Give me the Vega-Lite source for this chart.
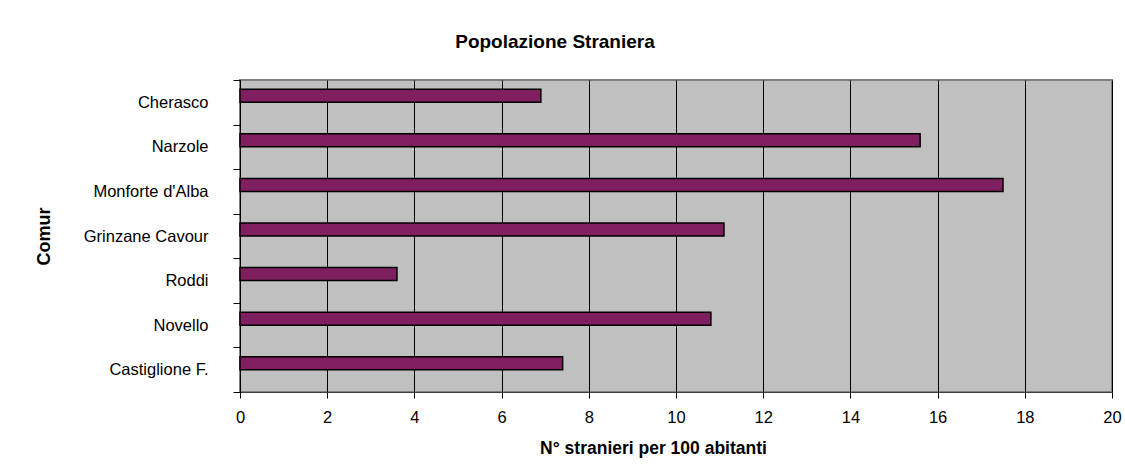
{
  "$schema": "https://vega.github.io/schema/vega-lite/v6.json",
  "autosize": "none",
  "width": 872,
  "height": 312,
  "padding": {"left": 240, "top": 80, "right": 13, "bottom": 76},
  "background": "white",
  "title": {
    "text": "Popolazione Straniera",
    "font": "Liberation Sans",
    "fontSize": 19,
    "fontWeight": "bold",
    "color": "#000000",
    "anchor": "middle",
    "frame": "group",
    "dx": -121,
    "offset": 20
  },
  "data": {
    "values": [
      {"comune": "Cherasco", "valore": 6.9},
      {"comune": "Narzole", "valore": 15.6},
      {"comune": "Monforte d'Alba", "valore": 17.5},
      {"comune": "Grinzane Cavour", "valore": 11.1},
      {"comune": "Roddi", "valore": 3.6},
      {"comune": "Novello", "valore": 10.8},
      {"comune": "Castiglione F.", "valore": 7.4}
    ]
  },
  "mark": {
    "type": "bar",
    "fill": "#7F1F5F",
    "stroke": "#000000",
    "strokeWidth": 1.5,
    "size": 13,
    "yOffset": -6.5
  },
  "encoding": {
    "y": {
      "field": "comune",
      "type": "nominal",
      "sort": null,
      "scale": {"paddingInner": 0, "paddingOuter": 0},
      "axis": {
        "title": "Comur",
        "titleFont": "Liberation Sans",
        "titleFontSize": 18,
        "titleFontWeight": "bold",
        "titleColor": "#000000",
        "titleAngle": 270,
        "titleX": -196,
        "titleY": 156,
        "titleAlign": "center",
        "titleBaseline": "middle",
        "labelFont": "Liberation Sans",
        "labelFontSize": 16.5,
        "labelColor": "#000000",
        "labelPadding": 25,
        "tickBand": "extent",
        "tickSize": 7,
        "tickColor": "#000000",
        "domainColor": "#000000",
        "grid": false
      }
    },
    "x": {
      "field": "valore",
      "type": "quantitative",
      "scale": {"domain": [0, 20], "nice": false},
      "axis": {
        "title": "N° stranieri per 100 abitanti",
        "titleFont": "Liberation Sans",
        "titleFontSize": 17.5,
        "titleFontWeight": "bold",
        "titleColor": "#000000",
        "titleX": 413,
        "titleY": 56,
        "titleBaseline": "middle",
        "values": [0, 2, 4, 6, 8, 10, 12, 14, 16, 18, 20],
        "labelFont": "Liberation Sans",
        "labelFontSize": 16.5,
        "labelColor": "#000000",
        "labelPadding": 11,
        "labelFlush": false,
        "tickSize": 6,
        "tickColor": "#000000",
        "domainColor": "#404040",
        "grid": true,
        "gridColor": "#000000",
        "gridOpacity": 1,
        "gridWidth": 1
      }
    }
  },
  "config": {
    "view": {"fill": "#C0C0C0", "stroke": "#808080", "strokeWidth": 2}
  }
}
